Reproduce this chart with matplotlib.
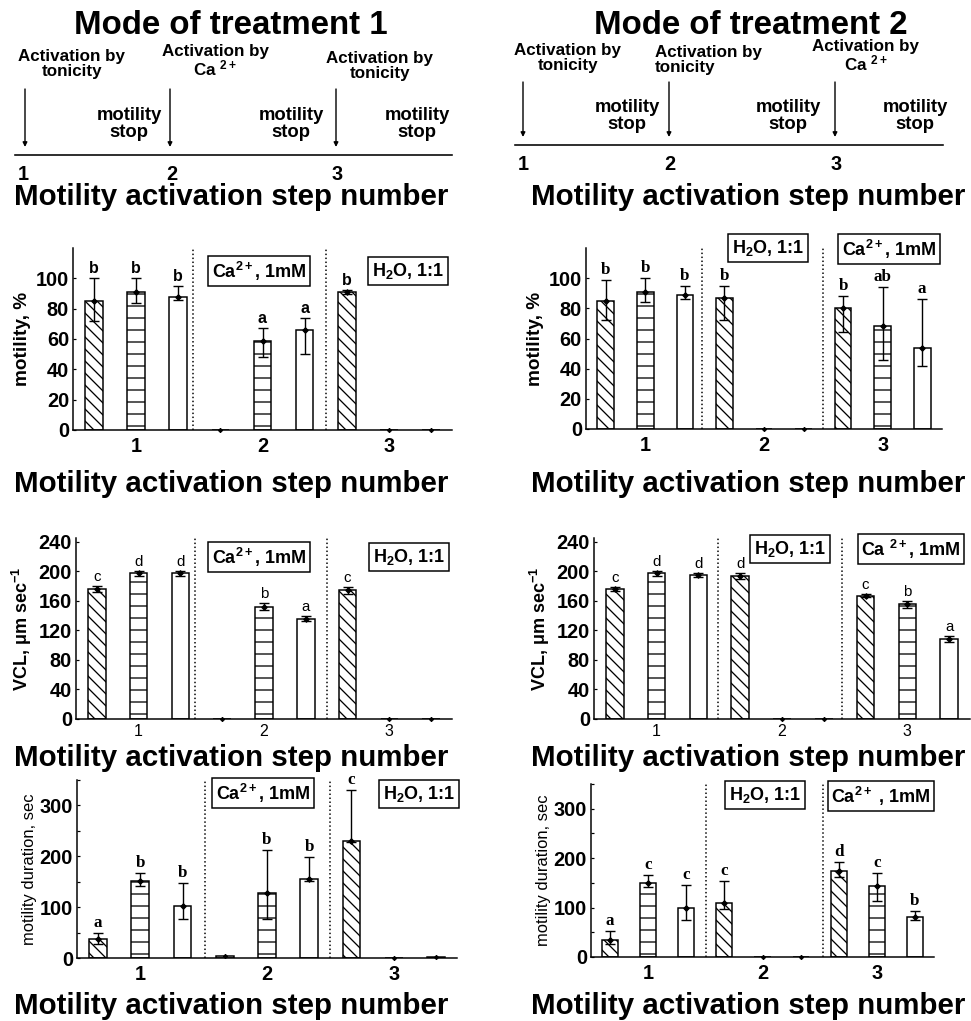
import matplotlib.pyplot as plt
import numpy as np

plt.rcParams['font.family'] = ['Liberation Sans', 'DejaVu Sans']
plt.rcParams['mathtext.fontset'] = 'custom'
plt.rcParams['mathtext.rm'] = 'Liberation Sans'
plt.rcParams['mathtext.bf'] = 'Liberation Sans:bold'
plt.rcParams['mathtext.it'] = 'Liberation Sans:italic'
plt.rcParams['hatch.linewidth'] = 1.3

# activation steps and the three sperm groups drawn inside each step
steps = [1, 2, 3]
step_labels = ['1', '2', '3']
hatches = ['\\\\', '-', '']
offsets = [-1 / 3, 0, 1 / 3]

# ---- Mode of treatment 1 ----
mot1 = [85, 91, 88, 0, 59, 66, 91, 0, 0]
mot1_lo = [72, 84, 86, 0, 48, 50, 90, 0, 0]
mot1_hi = [100, 100, 95, 0, 67, 74, 92, 0, 0]
mot1_let = ['b', 'b', 'b', '', 'a', 'a', 'b', '', '']

vcl1 = [176, 197, 197, 0, 152, 136, 174, 0, 0]
vcl1_lo = [172, 193, 194, 0, 147, 132, 169, 0, 0]
vcl1_hi = [180, 201, 200, 0, 157, 140, 179, 0, 0]
vcl1_let = ['c', 'd', 'd', '', 'b', 'a', 'c', '', '']

dur1 = [37, 151, 102, 3, 127, 155, 230, 0, 2]
dur1_lo = [28, 142, 76, 3, 76, 152, 228, 0, 2]
dur1_hi = [50, 168, 148, 3, 212, 198, 331, 0, 2]
dur1_let = ['a', 'b', 'b', '', 'b', 'b', 'c', '', '']

# ---- Mode of treatment 2 ----
mot2 = [85, 91, 89, 87, 0, 0, 80, 68, 54]
mot2_lo = [72, 84, 86, 72, 0, 0, 64, 46, 42]
mot2_hi = [99, 100, 95, 95, 0, 0, 88, 94, 86]
mot2_let = ['b', 'b', 'b', 'b', '', '', 'b', 'ab', 'a']

vcl2 = [176, 197, 195, 193, 0, 0, 167, 155, 108]
vcl2_lo = [173, 193, 192, 189, 0, 0, 165, 150, 104]
vcl2_hi = [179, 201, 198, 197, 0, 0, 169, 160, 112]
vcl2_let = ['c', 'd', 'd', 'd', '', '', 'c', 'b', 'a']

dur2 = [35, 150, 99, 109, 0, 0, 173, 144, 80]
dur2_lo = [27, 141, 75, 98, 0, 0, 162, 113, 74]
dur2_hi = [53, 165, 146, 153, 0, 0, 192, 169, 93]
dur2_let = ['a', 'c', 'c', 'c', '', '', 'd', 'c', 'b']

W, H = 971, 1021
fig = plt.figure(figsize=(W / 72, H / 72), dpi=72, facecolor='white')


def px_axes(x0, y0, x1, y1):
    return fig.add_axes([x0 / W, 1 - y1 / H, (x1 - x0) / W, (y1 - y0) / H])


def bar_panel(rect, vals, lo, hi, lets, ylim, yticks, ylabel, dividers,
              let_family, let_weight, let_size, ylab_weight='bold', ylab_size=19,
              minor=None, labelpad=5, xt_size=20, xt_weight='bold', xt_pad=7):
    ax = px_axes(*rect)
    for i, v in enumerate(vals):
        x = steps[i // 3] + offsets[i % 3]
        ax.bar(x, v, width=0.14, facecolor='white', edgecolor='black',
               hatch=hatches[i % 3], linewidth=1.5, zorder=2)
        if hi[i] > v or lo[i] < v:
            ax.errorbar(x, v, yerr=[[v - lo[i]], [hi[i] - v]], fmt='D', ms=4,
                        color='black', capsize=5, elinewidth=1.4, capthick=1.4,
                        zorder=3)
        else:
            ax.plot(x, v, 'D', ms=3, color='black', zorder=3, clip_on=False)
        if lets[i]:
            ax.annotate(lets[i], (x, hi[i]), xytext=(0, 2), textcoords='offset points',
                        ha='center', va='bottom', fontsize=let_size,
                        fontweight=let_weight, family=let_family)
    for d in dividers:
        ax.axvline(d, color='black', linestyle=':', linewidth=1.5, zorder=1)
    ax.set_xlim(0.5, 3.5)
    ax.set_ylim(*ylim)
    ax.set_yticks(yticks)
    if minor is not None:
        ax.set_yticks(minor, minor=True)
    ax.set_xticks(steps)
    ax.set_xticklabels(step_labels)
    for s in ['top', 'right']:
        ax.spines[s].set_visible(False)
    for s in ['left', 'bottom']:
        ax.spines[s].set_linewidth(1.5)
    ax.tick_params(axis='x', length=0, pad=xt_pad, labelsize=xt_size)
    ax.tick_params(axis='y', which='major', direction='in', length=3, width=1.2,
                   pad=4, labelsize=20)
    ax.tick_params(axis='y', which='minor', direction='in', length=3, width=1.2)
    for t in ax.get_xticklabels():
        t.set_fontweight(xt_weight)
    for t in ax.get_yticklabels():
        t.set_fontweight('bold')
    ax.set_ylabel(ylabel, fontsize=ylab_size, fontweight=ylab_weight, labelpad=labelpad)
    return ax


# motility, %
bar_panel((73, 248, 452, 430), mot1, mot1_lo, mot1_hi, mot1_let, (0, 120),
          range(0, 101, 20), 'motility, %', [1.45, 2.5],
          'Liberation Sans', 'bold', 16)
bar_panel((586, 248, 942, 429), mot2, mot2_lo, mot2_hi, mot2_let, (0, 120),
          range(0, 101, 20), 'motility, %', [1.48, 2.5],
          'Liberation Serif', 'bold', 17)

# VCL
vcl_label = r'VCL, $\mathbf{\mu}$m sec$^{\mathbf{-1}}$'
bar_panel((76, 538, 452, 719), vcl1, vcl1_lo, vcl1_hi, vcl1_let, (0, 245),
          range(0, 241, 40), vcl_label, [1.45, 2.5],
          'Liberation Sans', 'normal', 15, ylab_size=18,
          xt_size=16, xt_weight='normal', xt_pad=5)
bar_panel((594, 538, 970, 719), vcl2, vcl2_lo, vcl2_hi, vcl2_let, (0, 245),
          range(0, 241, 40), vcl_label, [1.49, 2.48],
          'Liberation Sans', 'normal', 15, ylab_size=18,
          xt_size=16, xt_weight='normal', xt_pad=5)

# motility duration
bar_panel((77, 780, 457, 958), dur1, dur1_lo, dur1_hi, dur1_let, (0, 350),
          range(0, 301, 100), 'motility duration, sec', [1.51, 2.5],
          'Liberation Serif', 'bold', 17, ylab_weight='normal', ylab_size=16.5,
          minor=range(50, 351, 50), labelpad=3)
bar_panel((591, 784, 934, 957), dur2, dur2_lo, dur2_hi, dur2_let, (0, 350),
          range(0, 301, 100), 'motility duration, sec', [1.51, 2.53],
          'Liberation Serif', 'bold', 17, ylab_weight='normal', ylab_size=16.5,
          minor=range(50, 351, 50), labelpad=3)

# overlay in pixel units for schemes, titles, boxes and shared x labels
ov = fig.add_axes([0, 0, 1, 1])
ov.set_xlim(0, W)
ov.set_ylim(H, 0)
ov.axis('off')
ov.patch.set_alpha(0)

ov.text(231, 25, 'Mode of treatment 1', ha='center', va='center', fontsize=33, fontweight='bold')
ov.text(751, 26, 'Mode of treatment 2', ha='center', va='center', fontsize=33, fontweight='bold')

ca_sup = r'Ca $^{\mathbf{2+}}$'
act_left = [(72, 64, 'Activation by\ntonicity', 'center'),
            (215, 61, 'Activation by\n' + ca_sup, 'center'),
            (380, 66, 'Activation by\ntonicity', 'center')]
act_right = [(568, 58, 'Activation by\ntonicity', 'center'),
             (655, 60, 'Activation by\ntonicity', 'left'),
             (866, 56, 'Activation by\n' + ca_sup, 'center')]
for x, y, s, ha in act_left + act_right:
    ov.text(x, y, s, ha=ha, va='center', multialignment=ha, fontsize=17,
            fontweight='bold', linespacing=0.95)

for x in [129, 291, 417]:
    ov.text(x, 124, 'motility\nstop', ha='center', va='center', fontsize=18.5,
            fontweight='bold', linespacing=1.0)
for x in [627, 788, 915]:
    ov.text(x, 116, 'motility\nstop', ha='center', va='center', fontsize=18.5,
            fontweight='bold', linespacing=1.0)

ov.plot([15, 452], [155, 155], color='black', lw=1.6)
ov.plot([515, 943], [145, 145], color='black', lw=1.6)
for x in [25, 170, 336]:
    ov.annotate('', xy=(x, 147), xytext=(x, 89),
                arrowprops=dict(arrowstyle='-|>', color='black', lw=1.4,
                                mutation_scale=9, shrinkA=0, shrinkB=0))
for x in [523, 669, 835]:
    ov.annotate('', xy=(x, 137), xytext=(x, 82),
                arrowprops=dict(arrowstyle='-|>', color='black', lw=1.4,
                                mutation_scale=9, shrinkA=0, shrinkB=0))
for x, s in zip([23, 172, 337], step_labels):
    ov.text(x, 174, s, ha='center', va='center', fontsize=20, fontweight='bold')
for x, s in zip([523, 670, 836], step_labels):
    ov.text(x, 165, s, ha='center', va='center', fontsize=20, fontweight='bold')

for y in [197, 484, 758, 1006]:
    ov.text(231, y, 'Motility activation step number', ha='center', va='center',
            fontsize=29.5, fontweight='bold')
    ov.text(748, y, 'Motility activation step number', ha='center', va='center',
            fontsize=29.5, fontweight='bold')

ca_box = r'Ca$^{\mathbf{2+}}$, 1mM'
h2o_box = r'H$_{\mathbf{2}}$O, 1:1'
boxes = [(259, 271, ca_box, 'center'), (408, 271, h2o_box, 'center'),
         (768, 248, h2o_box, 'center'), (842, 249, ca_box, 'left'),
         (259, 557, ca_box, 'center'), (409, 557, h2o_box, 'center'),
         (790, 549, h2o_box, 'center'), (911, 549, r'Ca $^{\mathbf{2+}}$, 1mM', 'center'),
         (263, 793, ca_box, 'center'), (419, 794, h2o_box, 'center'),
         (765, 795, h2o_box, 'center'), (881, 796, r'Ca$^{\mathbf{2+}}$ , 1mM', 'center')]
for x, y, s, ha in boxes:
    ov.text(x, y, s, ha=ha, va='center', fontsize=18, fontweight='bold',
            bbox=dict(boxstyle='square,pad=0.2', facecolor='white',
                      edgecolor='black', linewidth=1.5))

fig.savefig('out.png', dpi=72, facecolor='white')
